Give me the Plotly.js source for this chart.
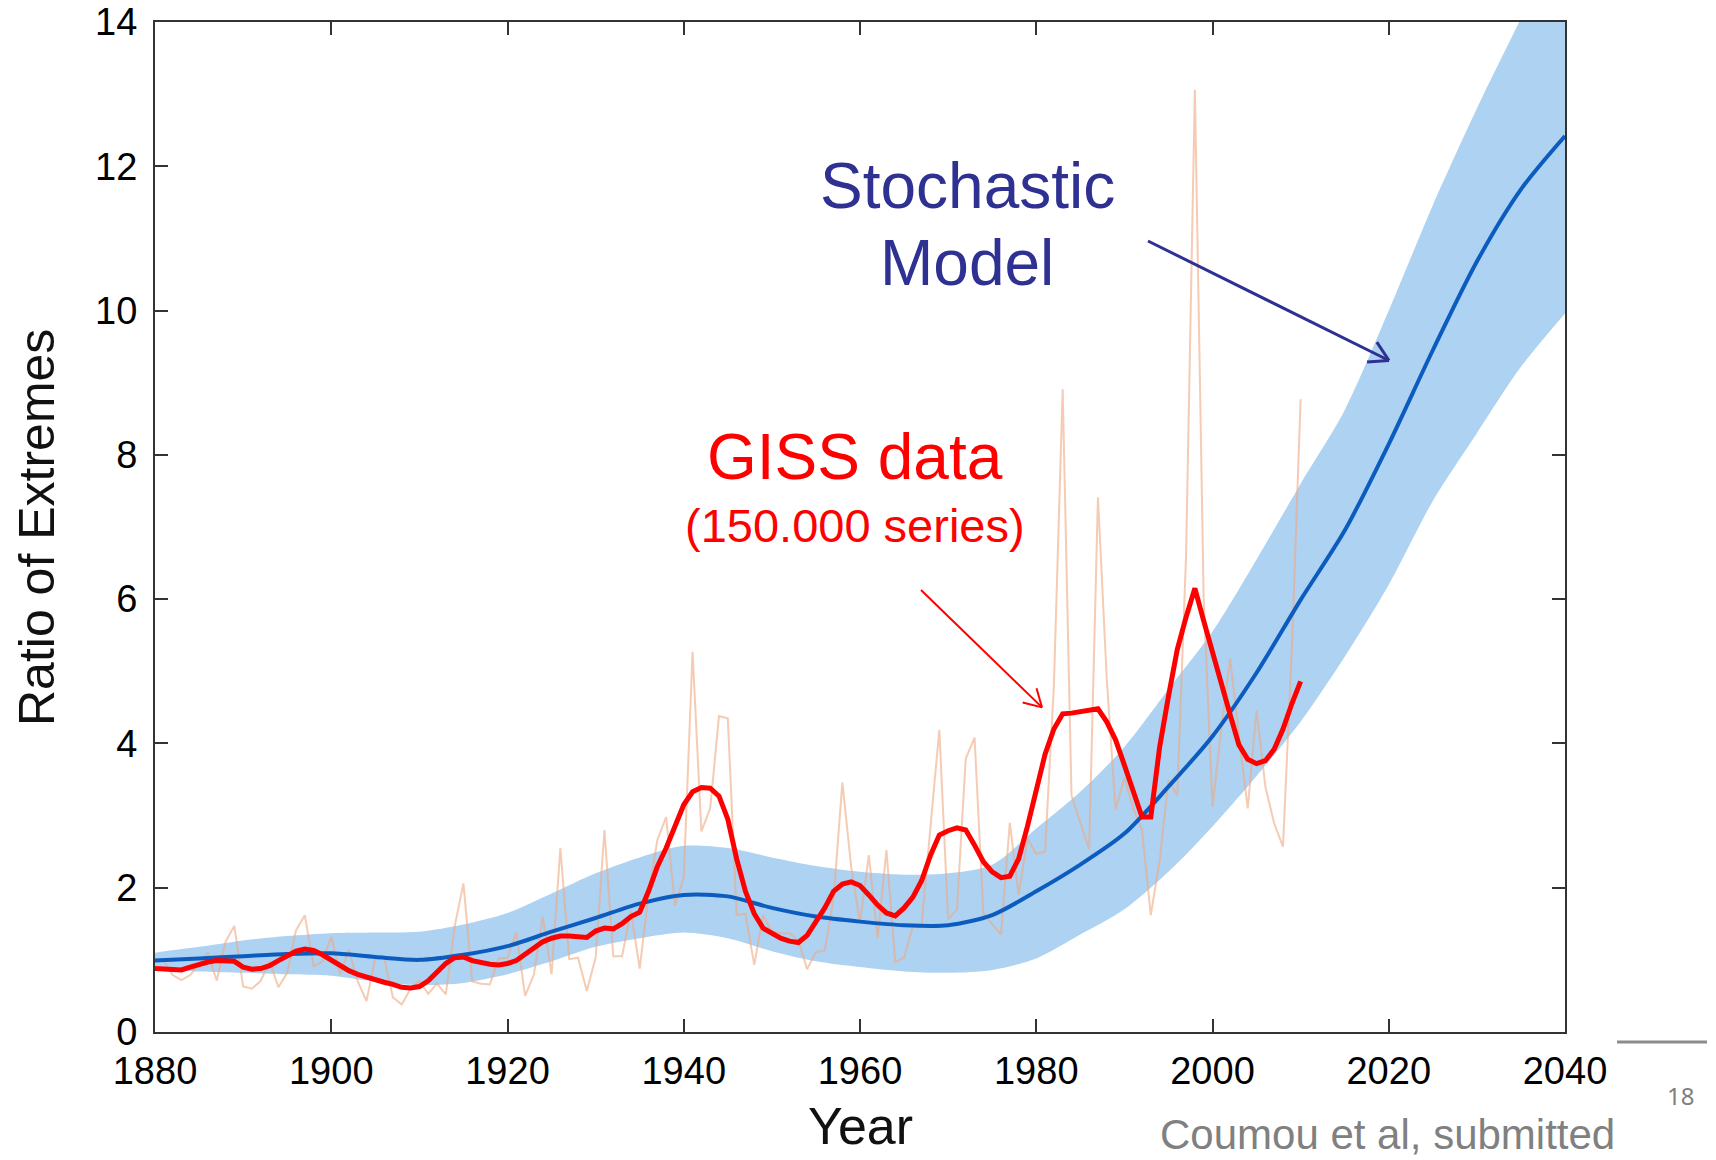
<!DOCTYPE html>
<html>
<head>
<meta charset="utf-8">
<script src="https://cdn.plot.ly/plotly-3.0.1.min.js"></script>
<style>html,body{margin:0;padding:0;background:#fff;}#chart{width:1716px;height:1160px;}</style>
</head>
<body>
<div id="chart"></div>
<script>
// ---------- DATA ----------
const firstYear = 1880, lastYear = 2010;
const years = [];
for (let y = firstYear; y <= lastYear; y++) years.push(y);

// GISS annual ratio of extremes (thin line)
const gissAnnual = [
  1.01, 0.99, 0.79, 0.72, 0.79, 0.95, 1.10, 0.71, 1.25, 1.47,
  0.63, 0.60, 0.71, 0.98, 0.62, 0.82, 1.41, 1.62, 0.91, 0.98,
  1.32, 0.80, 1.14, 0.70, 0.43, 1.03, 1.03, 0.48, 0.38, 0.60,
  0.71, 0.53, 0.67, 0.52, 1.46, 2.06, 0.70, 0.67, 0.66, 1.02,
  1.03, 1.38, 0.50, 0.80, 1.60, 0.80, 2.55, 1.01, 1.03, 0.57,
  1.03, 2.80, 1.05, 1.05, 1.68, 0.88, 1.90, 2.66, 2.98, 1.75,
  2.14, 5.27, 2.78, 3.10, 4.38, 4.35, 1.62, 1.64, 0.93, 1.62,
  1.39, 1.37, 1.37, 1.27, 0.87, 1.11, 1.13, 1.85, 3.46, 2.29,
  1.51, 2.45, 1.30, 2.52, 0.97, 1.03, 1.47, 1.50, 2.80, 4.19,
  1.56, 1.70, 3.79, 4.08, 1.64, 1.50, 1.35, 2.90, 1.90, 2.68,
  2.47, 2.50, 4.80, 8.91, 3.28, 2.90, 2.53, 7.41, 4.90, 3.08,
  3.52, 3.10, 2.80, 1.62, 2.38, 3.49, 3.28, 6.60, 13.06, 6.00,
  3.12, 4.20, 5.18, 4.10, 3.10, 4.46, 3.40, 2.89, 2.57, 5.30,
  8.77
];

// GISS smoothed (thick red line)
const gissSmooth = [
  0.88, 0.87, 0.86, 0.86, 0.90, 0.94, 0.97, 0.99, 0.99, 0.98,
  0.90, 0.87, 0.88, 0.92, 0.99, 1.06, 1.12, 1.15, 1.13, 1.07,
  0.99, 0.92, 0.85, 0.80, 0.76, 0.72, 0.69, 0.66, 0.62, 0.61,
  0.63, 0.71, 0.84, 0.95, 1.03, 1.04, 0.99, 0.96, 0.94, 0.93,
  0.95, 0.99, 1.08, 1.18, 1.25, 1.30, 1.33, 1.33, 1.32, 1.31,
  1.40, 1.44, 1.43, 1.50, 1.60, 1.66, 1.95, 2.29, 2.55, 2.85,
  3.15, 3.33, 3.39, 3.38, 3.27, 2.95, 2.40, 1.95, 1.64, 1.44,
  1.36, 1.30, 1.26, 1.24, 1.34, 1.52, 1.72, 1.95, 2.05, 2.08,
  2.03, 1.90, 1.76, 1.65, 1.61, 1.72, 1.87, 2.10, 2.45, 2.73,
  2.79, 2.83, 2.80, 2.59, 2.36, 2.22, 2.14, 2.16, 2.40, 2.85,
  3.35, 3.85, 4.20, 4.41, 4.42, 4.44, 4.46, 4.48, 4.30, 4.05,
  3.70, 3.35, 2.98, 2.98, 3.95, 4.65, 5.30, 5.75, 6.15, 5.70,
  5.25, 4.85, 4.40, 3.98, 3.78, 3.72, 3.76, 3.92, 4.20, 4.55,
  4.86
];

// Stochastic model (5-year steps)
const modelYears = [1880,1885,1890,1895,1900,1905,1910,1915,1920,1925,1930,1935,1940,1945,1950,1955,1960,
                    1965,1970,1975,1980,1985,1990,1995,2000,2005,2010,2015,2020,2025,2030,2035,2040];
const modelMean  = [0.99,1.02,1.05,1.08,1.09,1.04,1.00,1.07,1.19,1.39,1.58,1.78,1.90,1.88,1.72,1.60,1.53,
                    1.48,1.48,1.62,1.95,2.32,2.75,3.40,4.10,4.98,5.99,6.95,8.15,9.45,10.68,11.68,12.42];
const modelUpper = [1.10,1.18,1.27,1.33,1.37,1.38,1.39,1.49,1.65,1.92,2.20,2.42,2.58,2.55,2.42,2.30,2.22,
                    2.18,2.20,2.32,2.82,3.33,3.95,4.75,5.55,6.55,7.60,8.62,10.00,11.46,12.80,14.05,15.30];
const modelLower = [0.86,0.84,0.82,0.80,0.78,0.70,0.65,0.68,0.80,0.98,1.18,1.30,1.38,1.30,1.12,0.98,0.90,
                    0.84,0.82,0.86,1.02,1.35,1.70,2.22,2.85,3.55,4.30,5.20,6.20,7.36,8.30,9.22,9.96];

const xTicks = [1880,1900,1920,1940,1960,1980,2000,2020,2040];
const yTicks = [0,2,4,6,8,10,12,14];

// ---------- LAYOUT HELPERS ----------
const W = 1716, H = 1160, L = 155, R = 1565, T = 22, B = 1032;
const PX = x => (x - L) / (R - L);
const PY = y => (B - y) / (B - T);

function arrowShapes(x0, y0, x1, y1, color, width, headLen) {
  const dx = x1 - x0, dy = y1 - y0, len = Math.hypot(dx, dy);
  const ux = -dx / len, uy = -dy / len, a = Math.PI / 6;
  const r1 = [ux*Math.cos(a) - uy*Math.sin(a), ux*Math.sin(a) + uy*Math.cos(a)];
  const r2 = [ux*Math.cos(-a) - uy*Math.sin(-a), ux*Math.sin(-a) + uy*Math.cos(-a)];
  const line = {color: color, width: width};
  return [
    {type:'line', xref:'paper', yref:'paper', x0:PX(x0), y0:PY(y0), x1:PX(x1), y1:PY(y1), line:line},
    {type:'line', xref:'paper', yref:'paper', x0:PX(x1), y0:PY(y1), x1:PX(x1 + headLen*r1[0]), y1:PY(y1 + headLen*r1[1]), line:line},
    {type:'line', xref:'paper', yref:'paper', x0:PX(x1), y0:PY(y1), x1:PX(x1 + headLen*r2[0]), y1:PY(y1 + headLen*r2[1]), line:line}
  ];
}

const FONT = 'Liberation Sans, Arial, sans-serif';
const NAVY = '#2E3192';

const traces = [
  {x: modelYears, y: modelLower, type:'scatter', mode:'lines', line:{width:0, shape:'spline', smoothing:0.8}, hoverinfo:'skip', showlegend:false},
  {x: modelYears, y: modelUpper, type:'scatter', mode:'lines', fill:'tonexty', fillcolor:'#AED2F2',
   line:{width:0, shape:'spline', smoothing:0.8}, hoverinfo:'skip', showlegend:false},
  {x: years, y: gissAnnual, type:'scatter', mode:'lines', line:{color:'rgba(238,168,128,0.6)', width:2}, showlegend:false},
  {x: modelYears, y: modelMean, type:'scatter', mode:'lines', line:{color:'#0C5CC0', width:4, shape:'spline', smoothing:0.8}, showlegend:false},
  {x: years, y: gissSmooth, type:'scatter', mode:'lines', line:{color:'#FF0000', width:5}, showlegend:false}
];

const axisCommon = {
  ticks:'inside', ticklen:13, tickwidth:2, tickcolor:'#333',
  showline:true, linecolor:'#333', linewidth:2, mirror:'ticks',
  showgrid:false, zeroline:false, layer:'below traces',
  tickfont:{family:FONT, size:38, color:'#000'}
};

const layout = {
  width: W, height: H,
  margin: {l: L, r: W - R, t: T, b: H - B, pad: 0},
  paper_bgcolor:'#fff', plot_bgcolor:'#fff',
  showlegend:false,
  xaxis: Object.assign({}, axisCommon, {range:[1880, 2040], tickvals:xTicks, ticktext:xTicks.map(String), ticklabelstandoff:4}),
  yaxis: Object.assign({}, axisCommon, {range:[0, 14], tickvals:yTicks, ticktext:yTicks.map(String), ticklabelstandoff:8}),
  annotations: [
    {text:'Ratio of Extremes', xref:'paper', yref:'paper', x:PX(37), y:PY(528), textangle:-90,
     xanchor:'center', yanchor:'middle', showarrow:false, font:{family:FONT, size:50, color:'#111'}},
    {text:'Year', xref:'paper', yref:'paper', x:PX(860), y:PY(1126), xanchor:'center', yanchor:'middle',
     showarrow:false, font:{family:FONT, size:52, color:'#111'}},
    {text:'Stochastic', xref:'paper', yref:'paper', x:PX(967), y:PY(186), xanchor:'center', yanchor:'middle',
     showarrow:false, font:{family:FONT, size:64, color:NAVY}},
    {text:'Model', xref:'paper', yref:'paper', x:PX(967), y:PY(263), xanchor:'center', yanchor:'middle',
     showarrow:false, font:{family:FONT, size:64, color:NAVY}},
    {text:'GISS data', xref:'paper', yref:'paper', x:PX(855), y:PY(457), xanchor:'center', yanchor:'middle',
     showarrow:false, font:{family:FONT, size:64, color:'#FF0000'}},
    {text:'(150.000 series)', xref:'paper', yref:'paper', x:PX(855), y:PY(525), xanchor:'center', yanchor:'middle',
     showarrow:false, font:{family:FONT, size:47, color:'#FF0000'}},
    {text:'18', xref:'paper', yref:'paper', x:PX(1681), y:PY(1095), xanchor:'center', yanchor:'middle',
     showarrow:false, font:{family:'Noto Sans, sans-serif', size:24, color:'#7f7f7f'}},
    {text:'Coumou et al, submitted', xref:'paper', yref:'paper', x:PX(1387), y:PY(1134), xanchor:'center', yanchor:'middle',
     showarrow:false, font:{family:FONT, size:42, color:'#808080'}}
  ],
  shapes: [].concat(
    arrowShapes(1148, 241, 1389, 360.5, NAVY, 3, 22),
    arrowShapes(921, 590, 1042, 707.4, '#FF0000', 2, 20),
    [{type:'line', xref:'paper', yref:'paper', x0:PX(1617), x1:PX(1707), y0:PY(1042), y1:PY(1042), line:{color:'#8c8c8c', width:3}}]
  )
};

Plotly.newPlot('chart', traces, layout, {displayModeBar:false, staticPlot:true});
</script>
</body>
</html>
